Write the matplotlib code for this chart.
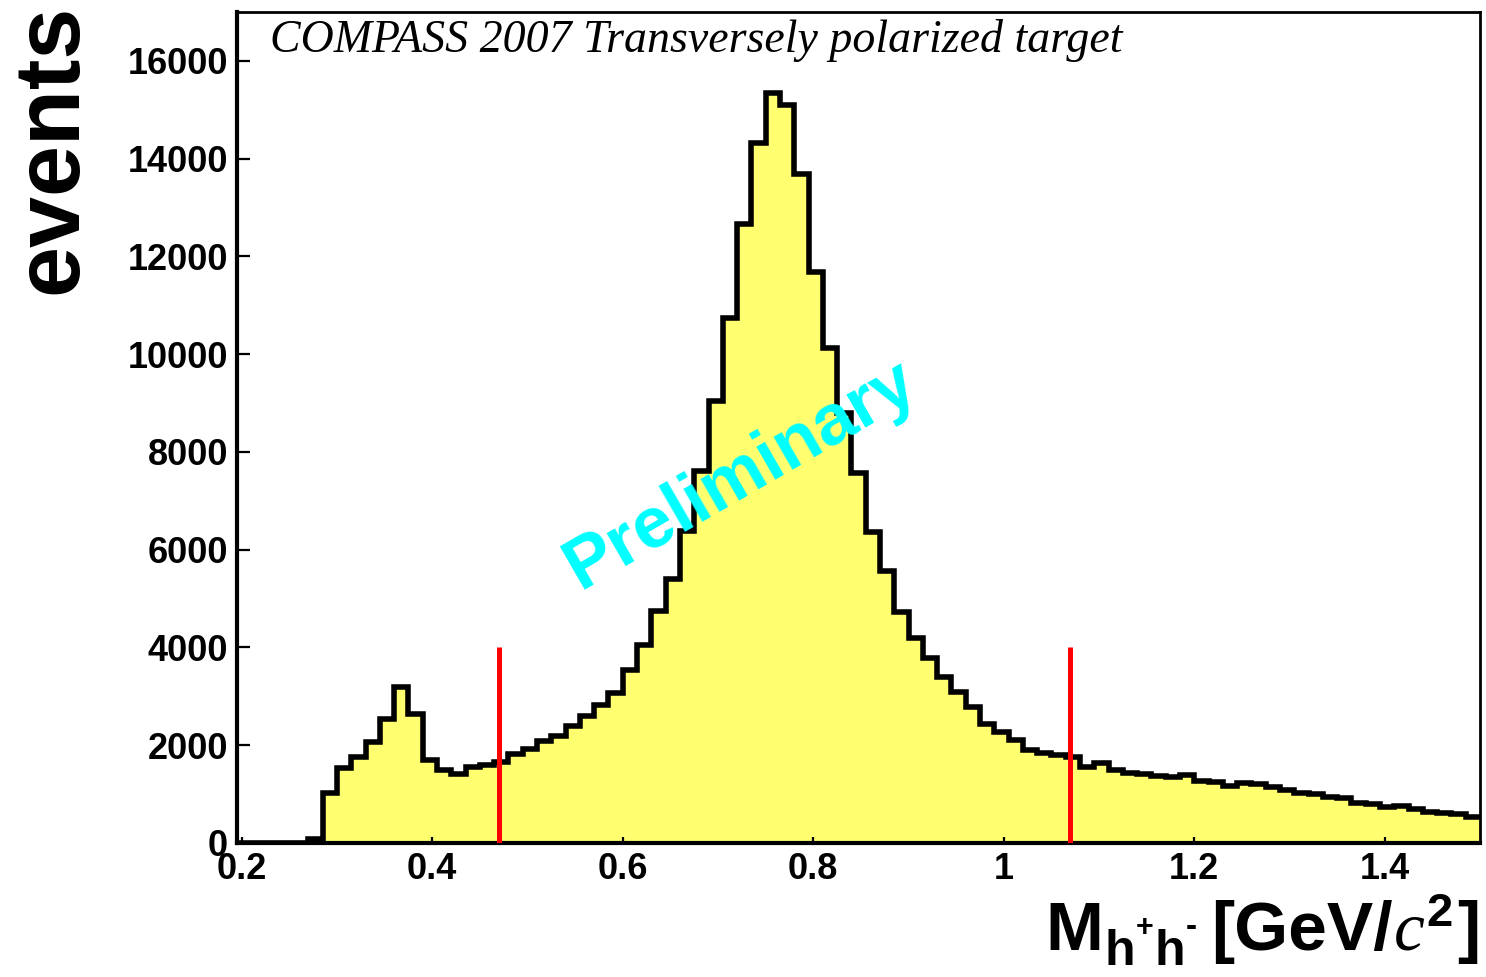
import numpy as np
import matplotlib
matplotlib.use("Agg")
import matplotlib.pyplot as plt

# Invariant mass spectrum of h+h- pairs, 87 bins of 15 MeV starting at 0.195 GeV
bin_low = 0.195
bin_width = 0.015
counts = [
    0, 0, 0, 0, 0, 80, 1030, 1530, 1760, 2070,
    2530, 3190, 2630, 1690, 1490, 1410, 1560, 1600, 1660, 1810,
    1920, 2090, 2180, 2390, 2600, 2820, 3060, 3530, 4050, 4750,
    5400, 6380, 7610, 9040, 10730, 12660, 14320, 15350, 15090, 13680,
    11680, 10130, 8800, 7560, 6370, 5570, 4730, 4190, 3780, 3400,
    3090, 2790, 2430, 2270, 2110, 1910, 1850, 1790, 1765, 1555,
    1635, 1500, 1430, 1410, 1360, 1345, 1385, 1270, 1255, 1170,
    1220, 1200, 1145, 1085, 1030, 995, 950, 925, 825, 790,
    745, 755, 700, 640, 620, 585, 540,
]
edges = bin_low + bin_width * np.arange(len(counts) + 1)

# rho mass window cuts
cut_positions = [0.47, 1.07]
cut_height = 4000

x_ticks = [0.2, 0.4, 0.6, 0.8, 1.0, 1.2, 1.4]
x_tick_labels = ["0.2", "0.4", "0.6", "0.8", "1", "1.2", "1.4"]
y_ticks = [0, 2000, 4000, 6000, 8000, 10000, 12000, 14000, 16000]

plt.rcParams["font.family"] = ["Liberation Sans", "DejaVu Sans"]

W, H = 1486, 977
fig = plt.figure(figsize=(W / 100, H / 100), dpi=100)
ax = fig.add_axes([0.1595, 0.1372, 0.8365, 0.8505])

ax.stairs(counts, edges, fill=True, color="#FFFF70", zorder=1)
ax.stairs(counts, edges, baseline=None, color="black", linewidth=4, zorder=2)

for xc in cut_positions:
    ax.plot([xc, xc], [0, cut_height], color="#FF0000", linewidth=3.6,
            solid_capstyle="butt", zorder=3)

ax.set_xlim(bin_low, edges[-1])
ax.set_ylim(0, 17000)

ax.set_xticks(x_ticks)
ax.set_xticklabels(x_tick_labels)
ax.set_yticks(y_ticks)
ax.set_yticklabels([str(v) for v in y_ticks])
ax.minorticks_off()

ax.tick_params(axis="y", direction="in", length=9.5, width=1.6, pad=6.5,
               labelsize=26)
ax.tick_params(axis="x", direction="in", length=4.5, width=1.6, pad=6.5,
               labelsize=26)
for lab in ax.get_xticklabels() + ax.get_yticklabels():
    lab.set_fontweight("bold")

for side in ("left", "bottom"):
    ax.spines[side].set_linewidth(3.0)
for side in ("top", "right"):
    ax.spines[side].set_linewidth(2.0)

ax.text(0.0265, 0.952, "COMPASS 2007 Transversely polarized target",
        transform=ax.transAxes, ha="left", va="baseline",
        family="Liberation Serif", style="italic", fontsize=33)

ax.text(0.7237, 7530, "Preliminary", color="#00FFFF", fontsize=52,
        fontweight="bold", rotation=30, rotation_mode="anchor",
        ha="center", va="center", zorder=5)

fig.text(52 / W, 1 - 4 / H, "events", rotation=90, ha="center",
         va="top", fontsize=66, fontweight="bold")

# Axis title M_{h+h-} [GeV/c^2], assembled piece by piece in pixel space
sans = dict(family="Liberation Sans", fontweight="bold")
serif_it = dict(family="Liberation Serif", style="italic")
pieces = [
    ("M", 50, 0, sans, 0),
    ("h", 36, -15, sans, 1),
    ("+", 22, 14, sans, 1),
    ("h", 36, -15, sans, 1),
    ("-", 24, 14, sans, 1),
    ("[GeV/", 50, 0, sans, 14),
    ("c", 50, 0, serif_it, 1),
    ("2", 34, 24, sans, 2),
    ("]", 50, 0, sans, 4),
]
right_px = 1480
baseline_px = H - 950
renderer = fig.canvas.get_renderer()
texts = []
widths = []
for s, size, dy, props, gap in pieces:
    t = fig.text(0, 0, s, fontsize=size, ha="left", va="baseline",
                 transform=None, **props)
    texts.append(t)
    widths.append(t.get_window_extent(renderer).width)
total = sum(w + p[4] for w, p in zip(widths, pieces))
x = right_px - total
for t, w, p in zip(texts, widths, pieces):
    x += p[4]
    t.set_position((x, baseline_px + p[2]))
    x += w

fig.savefig("out.png", dpi=100)
